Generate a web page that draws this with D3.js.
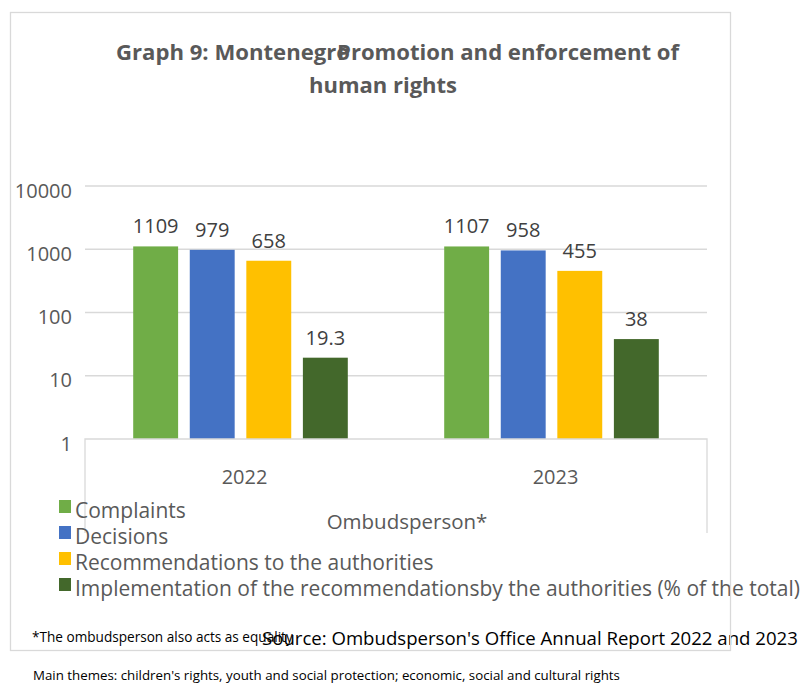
<!DOCTYPE html>
<html>
<head>
<meta charset="utf-8">
<script src="https://cdn.jsdelivr.net/npm/d3@7"></script>
<style>
  body { margin: 0; background: #fff; }
  svg { display: block; font-family: "Open Sans", sans-serif; }
</style>
</head>
<body>
<div id="chart"></div>
<script>
// data
var years = ['2022', '2023'];
var series = ['Complaints', 'Decisions', 'Recommendations to the authorities',
  'Implementation of the recommendationsby the authorities (% of the total)'];
var values2022 = [1109, 979, 658, 19.3];
var values2023 = [1107, 958, 455, 38];
var yTicks = [1, 10, 100, 1000, 10000];
var colors = ['#70ad47', '#4472c4', '#ffc000', '#43682b'];

var width = 807, height = 686;
var svg = d3.select('#chart').append('svg')
    .attr('width', width)
    .attr('height', height);

var plot = { left: 85, right: 707, top: 186, bottom: 439 };

var yScale = d3.scaleLog().domain([1, 10000]).range([plot.bottom, plot.top]);
var x0 = d3.scaleBand().domain(years).range([plot.left, plot.right]);
var pad = x0.bandwidth() * 0.155;
var x1 = d3.scaleBand().domain(series).range([pad, x0.bandwidth() - pad]).paddingInner(0.206);

// title (the two parts overlap like in the original)
var title = svg.append('g').attr('fill', '#595959').attr('font-weight', 'bold').style('font-size', '22px');
title.append('text').attr('x', 116).attr('y', 60)
    .attr('textLength', 234).attr('lengthAdjust', 'spacingAndGlyphs').text('Graph 9: Montenegro');
title.append('text').attr('x', 337).attr('y', 60)
    .attr('textLength', 342).attr('lengthAdjust', 'spacingAndGlyphs').text('Promotion and enforcement of');
title.append('text').attr('x', 383).attr('y', 93).attr('text-anchor', 'middle').text('human rights');

// grid lines
svg.append('g').selectAll('line').data(yTicks.slice(1)).join('line')
    .attr('x1', plot.left).attr('x2', plot.right)
    .attr('y1', d => yScale(d)).attr('y2', d => yScale(d))
    .attr('stroke', '#d9d9d9').attr('stroke-width', 1.3);

// y axis labels
var yAxis = svg.append('g').attr('transform', `translate(${plot.left},0)`)
    .call(d3.axisLeft(yScale).tickValues(yTicks).tickFormat(d3.format('d')).tickSize(0).tickPadding(13));
yAxis.select('.domain').remove();
yAxis.selectAll('text').attr('fill', '#595959').style('font-size', '20px').attr('font-family', 'Open Sans').attr('dy', '0.55em');

// bars
var rows = years.map((y, i) => ({ year: y, vals: i == 0 ? values2022 : values2023 }));
var groups = svg.append('g').selectAll('g').data(rows).join('g')
    .attr('transform', d => `translate(${x0(d.year)},0)`);

groups.selectAll('rect').data(d => d.vals.map((v, i) => ({ s: series[i], v: v, c: colors[i] }))).join('rect')
    .attr('x', d => x1(d.s))
    .attr('width', x1.bandwidth())
    .attr('y', d => yScale(d.v))
    .attr('height', d => plot.bottom - yScale(d.v))
    .attr('fill', d => d.c);

groups.selectAll('text').data(d => d.vals.map((v, i) => ({ s: series[i], v: v }))).join('text')
    .attr('x', d => x1(d.s) + x1.bandwidth() / 2)
    .attr('y', d => yScale(d.v) - 13)
    .attr('text-anchor', 'middle')
    .attr('fill', '#404040')
    .style('font-size', '20px')
    .text(d => d.v);

// category axis box
var cat = svg.append('g').attr('stroke', '#d9d9d9').attr('stroke-width', 1.3).attr('fill', 'none');
cat.append('path').attr('d', `M${plot.left},533V${plot.bottom}H${plot.right}V533`);

svg.append('g').selectAll('text').data(years).join('text')
    .attr('x', d => x0(d) + x0.bandwidth() / 2 + 4)
    .attr('y', 484)
    .attr('text-anchor', 'middle')
    .attr('fill', '#595959')
    .style('font-size', '20px')
    .text(d => d);

svg.append('text').attr('x', 407).attr('y', 529).attr('text-anchor', 'middle')
    .attr('fill', '#595959').style('font-size', '20.5px').text('Ombudsperson*');

// legend
var legend = svg.append('g').selectAll('g').data(series).join('g')
    .attr('transform', (d, i) => `translate(59,${500 + i * 26})`);
legend.append('rect').attr('width', 12).attr('height', 13).attr('fill', (d, i) => colors[i]);
legend.append('text').attr('x', 16).attr('y', 18).attr('fill', '#595959').style('font-size', '21px').text(d => d);

// footnotes
svg.append('text').attr('x', 32).attr('y', 642).style('font-size', '13.6px').attr('fill', '#000')
    .text('*The ombudsperson also acts as equality');
svg.append('text').attr('x', 262).attr('y', 645).style('font-size', '18.6px').attr('fill', '#000')
    .text("Source: Ombudsperson's Office Annual Report 2022 and 2023");
svg.append('text').attr('x', 33).attr('y', 680).style('font-size', '13.3px').attr('fill', '#000')
    .text("Main themes: children's rights, youth and social protection; economic, social and cultural rights");

// chart frame
svg.append('rect').attr('x', 10.5).attr('y', 12.5).attr('width', 720).attr('height', 638)
    .attr('fill', 'none').attr('stroke', '#d9d9d9').attr('stroke-width', 1.3);
</script>
</body>
</html>
